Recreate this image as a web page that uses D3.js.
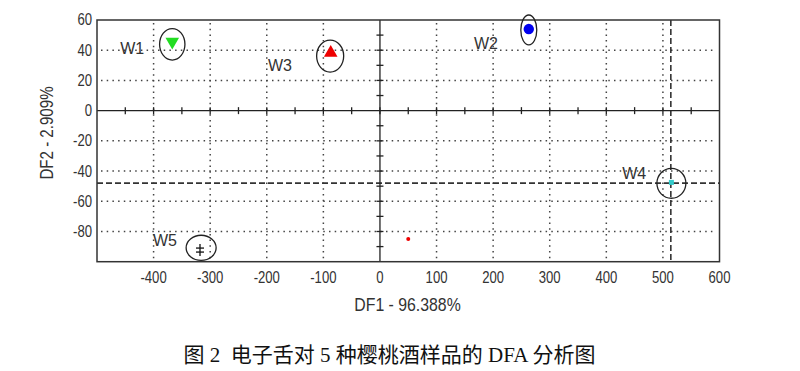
<!DOCTYPE html>
<html><head><meta charset="utf-8">
<script src="https://cdn.jsdelivr.net/npm/d3@7"></script>
<style>
body{margin:0;background:#fff;}
svg{display:block;}
.tick-lab{font-family:"Liberation Sans",Arial,sans-serif;font-size:16px;fill:#333;}
</style></head><body>
<svg id="c" width="800" height="371"></svg>
<script>
// ---- data ----
const samples   = ["W1","W2","W3","W4","W5"];
const df1       = [-367, 263, -87, 515, -318];
const df2       = [45.6, 54.0, 38.3, -47.5, -92.3];
const markers   = ["triangle-down","circle","triangle-up","square","cross"];
const colors    = ["#22dd22","#0000ee","#ee0000","#33cccc","#111111"];
const ellCx     = [-367, 263, -88, 515, -316];
const ellCy     = [43.9, 53.4, 36.1, -48.1, -90.8];
const ellRx     = [22.4, 14.1, 23.9, 25.6, 26.5];
const ellRy     = [10.4, 9.9, 10.6, 9.9, 8.3];
const labX      = [-459, 166, -198, 428, -401];
const labY      = [41.4, 44.7, 30.2, -41.3, -86.1];
const strayDot  = [50, -85];
const refX      = 514, refY = -48;
const xTicks    = [-400,-300,-200,-100,0,100,200,300,400,500,600];
const yTicks    = [60,40,20,0,-20,-40,-60,-80];
const xGrid     = [-400,-300,-200,-100,100,200,300,400,500];
const yGrid     = [40,20,-20,-40,-60,-80];
const xLabel    = "DF1 - 96.388%";
const yLabel    = "DF2 - 2.909%";
const caption   = "图 2  电子舌对 5 种樱桃酒样品的 DFA 分析图";

const svg = d3.select("#c");
const L=97, R=719.5, T=20, B=261.7;
const x = d3.scaleLinear().domain([-500,600]).range([L,R]);
const y = d3.scaleLinear().domain([-100,60]).range([B,T]);
const NARROW = 0.82;

// dotted grid
const g = svg.append("g");
g.selectAll(".gx").data(xGrid).join("line")
  .attr("x1",d=>x(d)).attr("x2",d=>x(d)).attr("y1",T+3).attr("y2",B-3)
  .attr("stroke","#444").attr("stroke-width",1.5).attr("stroke-dasharray","1.5,4.2");
g.selectAll(".gy").data(yGrid).join("line")
  .attr("y1",d=>y(d)).attr("y2",d=>y(d)).attr("x1",L+4).attr("x2",R-3)
  .attr("stroke","#444").attr("stroke-width",1.5).attr("stroke-dasharray","1.5,4.2");

// dashed reference lines through W4
svg.append("line").attr("x1",x(refX)).attr("x2",x(refX)).attr("y1",T).attr("y2",B)
  .attr("stroke","#333").attr("stroke-width",1.6).attr("stroke-dasharray","6,3");
svg.append("line").attr("y1",y(refY)).attr("y2",y(refY)).attr("x1",L).attr("x2",R)
  .attr("stroke","#333").attr("stroke-width",1.6).attr("stroke-dasharray","6,3");

// zero axes with ticks
svg.append("line").attr("x1",L).attr("x2",R).attr("y1",y(0)).attr("y2",y(0)).attr("stroke","#222").attr("stroke-width",1.3);
svg.append("line").attr("x1",x(0)).attr("x2",x(0)).attr("y1",T).attr("y2",B).attr("stroke","#222").attr("stroke-width",1.3);
const xMinor = d3.range(-450,600,50);
svg.selectAll(".tx").data(xMinor).join("line")
  .attr("x1",d=>x(d)).attr("x2",d=>x(d)).attr("y1",y(0)-3.5).attr("y2",y(0)+3.5)
  .attr("stroke","#222").attr("stroke-width",1.3);
const yMinor = d3.range(-90,60,10).filter(d=>d!==0);
svg.selectAll(".ty").data(yMinor).join("line")
  .attr("y1",d=>y(d)).attr("y2",d=>y(d)).attr("x1",x(0)-3.5).attr("x2",x(0)+3.5)
  .attr("stroke","#222").attr("stroke-width",1.3);

// frame
svg.append("rect").attr("x",L).attr("y",T).attr("width",R-L).attr("height",B-T)
  .attr("fill","none").attr("stroke","#333").attr("stroke-width",1.5);

// tick labels (narrow look via horizontal scaling)
svg.selectAll(".xl").data(xTicks).join("text").attr("class","tick-lab")
  .attr("transform",d=>`translate(${x(d)},278) scale(${NARROW},1)`)
  .attr("text-anchor","middle").attr("dominant-baseline","central")
  .text(d=>d);
svg.selectAll(".yl").data(yTicks).join("text").attr("class","tick-lab")
  .attr("transform",d=>`translate(${L-5},${y(d)}) scale(${NARROW},1)`)
  .attr("text-anchor","end").attr("dominant-baseline","central")
  .text(d=>d);

// axis titles
svg.append("text").attr("class","tick-lab").attr("transform",`translate(407.5,305) scale(0.88,1)`)
  .attr("text-anchor","middle").attr("dominant-baseline","central").style("font-size","18px")
  .attr("xml:space","preserve").text(xLabel);
svg.append("text").attr("class","tick-lab").attr("transform","translate(47,133) rotate(-90) scale(0.84,1)")
  .attr("text-anchor","middle").attr("dominant-baseline","central").style("font-size","18px")
  .text(yLabel);

// ellipses
svg.selectAll(".el").data(samples).join("ellipse")
  .attr("cx",(d,i)=>x(ellCx[i])).attr("cy",(d,i)=>y(ellCy[i]))
  .attr("rx",(d,i)=>x(ellCx[i]+ellRx[i])-x(ellCx[i]))
  .attr("ry",(d,i)=>y(ellCy[i])-y(ellCy[i]+ellRy[i]))
  .attr("fill","none").attr("stroke","#222").attr("stroke-width",1.3);

// markers
const sym = {"triangle-down":d3.symbolTriangle,"triangle-up":d3.symbolTriangle,"circle":d3.symbolCircle,"square":d3.symbolSquare};
samples.forEach((s,i)=>{
  const px=x(df1[i]), py=y(df2[i]);
  if(markers[i]==="cross"){
    const gg=svg.append("g").attr("transform",`translate(${px},${py})`).attr("stroke",colors[i]).attr("stroke-width",1.3);
    gg.append("line").attr("x1",0).attr("x2",0).attr("y1",-6).attr("y2",6);
    gg.append("line").attr("x1",-4).attr("x2",4).attr("y1",-2).attr("y2",-2);
    gg.append("line").attr("x1",-4).attr("x2",4).attr("y1",2).attr("y2",2);
  } else {
    const size = markers[i]==="square"?25:(markers[i]==="circle"?85:80);
    const rot = markers[i]==="triangle-down"?180:0;
    svg.append("path").attr("d",d3.symbol().type(sym[markers[i]]).size(size)())
      .attr("transform",`translate(${px},${py}) rotate(${rot})`).attr("fill",colors[i]);
  }
});
svg.append("circle").attr("cx",x(strayDot[0])).attr("cy",y(strayDot[1])).attr("r",2).attr("fill","#ee0000");

// sample labels
svg.selectAll(".wl").data(samples).join("text")
  .attr("x",(d,i)=>x(labX[i])).attr("y",(d,i)=>y(labY[i])).attr("dominant-baseline","central")
  .style("font-family","'Liberation Sans',Arial,sans-serif").style("font-size","16px").attr("fill","#333")
  .text(d=>d);

// caption
svg.append("text").attr("x",389.5).attr("y",355).attr("text-anchor","middle").attr("dominant-baseline","central")
  .style("font-family","'Liberation Serif','Times New Roman','Noto Sans CJK SC',serif").style("font-size","21px").attr("fill","#111")
  .attr("xml:space","preserve").text(caption);
</script></body></html>
